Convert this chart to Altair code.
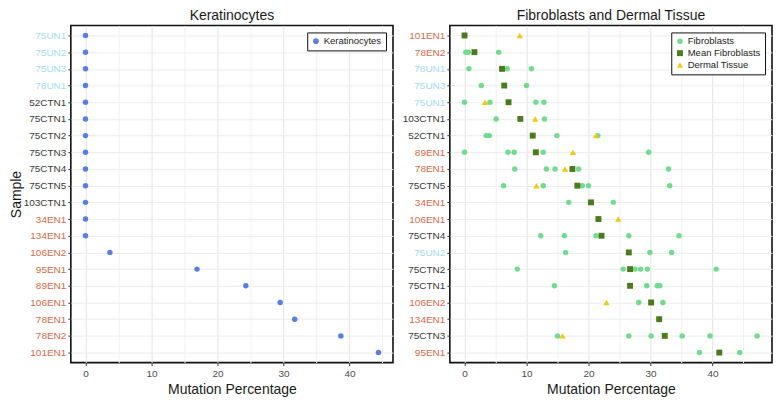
import altair as alt
import pandas as pd

# ---------------- data ----------------
kera_samples = ["75UN1", "75UN2", "75UN3", "78UN1", "52CTN1", "75CTN1", "75CTN2",
                "75CTN3", "75CTN4", "75CTN5", "103CTN1", "34EN1", "134EN1", "106EN2",
                "95EN1", "89EN1", "106EN1", "78EN1", "78EN2", "101EN1"]
kera_values = [0, 0, 0, 0, 0, 0, 0, 0, 0, 0, 0, 0, 0,
               3.7, 16.9, 24.3, 29.5, 31.7, 38.7, 44.4]

fib_samples = ["101EN1", "78EN2", "78UN1", "75UN3", "75UN1", "103CTN1", "52CTN1",
               "89EN1", "78EN1", "75CTN5", "34EN1", "106EN1", "75CTN4", "75UN2",
               "75CTN2", "75CTN1", "106EN2", "134EN1", "75CTN3", "95EN1"]
fib_values = [
    [0.0],
    [0.2, 0.6, 5.5],
    [0.7, 6.9, 10.8],
    [2.7, 10.0],
    [0.0, 4.1, 11.5, 12.8],
    [5.1, 12.9],
    [3.5, 4.0, 14.9, 21.5],
    [0.0, 7.0, 8.0, 12.7, 29.7],
    [8.1, 13.2, 14.6, 18.4, 32.9],
    [6.3, 12.7, 19.0, 20.0, 33.1],
    [16.8, 24.0],
    [21.6],
    [12.3, 16.1, 21.2, 26.5, 34.6],
    [16.3, 29.9, 33.4],
    [8.5, 25.6, 27.5, 28.4, 29.5, 40.6],
    [14.5, 29.4, 31.1, 31.5],
    [28.1, 32.0],
    [31.4],
    [15.0, 26.5, 30.1, 35.1, 39.6, 47.2],
    [37.9, 44.4],
]
fib_means = [0.0, 1.6, 6.05, 6.4, 7.1, 9.0, 11.0, 11.5, 17.4, 18.2,
             20.4, 21.6, 22.1, 26.5, 26.7, 26.7, 30.1, 31.4, 32.3, 41.1]
dermal_samples = ["101EN1", "75UN1", "103CTN1", "52CTN1", "89EN1", "78EN1",
                  "75CTN5", "106EN1", "106EN2", "75CTN3"]
dermal_values = [8.9, 3.3, 11.4, 21.2, 17.5, 16.2, 11.6, 24.8, 22.9, 15.8]

types = ["Fibroblasts", "Mean Fibroblasts", "Dermal Tissue"]

# ---------------- tables ----------------
kera_df = pd.DataFrame({"sample": kera_samples, "value": kera_values,
                        "cell": "Keratinocytes"})
rows = []
for s, vals in zip(fib_samples, fib_values):
    for v in vals:
        rows.append({"sample": s, "value": v, "type": types[0]})
for s, v in zip(fib_samples, fib_means):
    rows.append({"sample": s, "value": v, "type": types[1]})
for s, v in zip(dermal_samples, dermal_values):
    rows.append({"sample": s, "value": v, "type": types[2]})
fib_df = pd.DataFrame(rows)

# ---------------- styling ----------------
EN_COLOR = "#d4694a"
UN_COLOR = "#a3dcee"
CTN_COLOR = "#3a3a3a"
W, H = 323, 338

label_color = {
    "condition": [
        {"test": "indexof(datum.label, 'EN') >= 0", "value": EN_COLOR},
        {"test": "indexof(datum.label, 'UN') >= 0", "value": UN_COLOR},
    ],
    "value": CTN_COLOR,
}


def x_axis():
    return alt.Axis(
        values=list(range(0, 50, 5)),
        labelExpr="datum.value % 10 === 0 ? datum.label : ''",
        tickOpacity={"condition": {"test": "datum.value % 10 === 0", "value": 1}, "value": 0},
        gridColor={"condition": {"test": "datum.value % 10 === 0", "value": "#e4e4e4"},
                   "value": "#f1f1f1"},
        grid=True, domain=False, tickSize=3, labelPadding=3, titlePadding=4,
        labelColor="#4d4d4d", labelFontSize=10,
    )


def y_axis(with_title):
    kw = dict(grid=True, gridColor="#ececec", domain=False, tickSize=3,
              labelPadding=2, labelFontSize=10, labelColor=label_color)
    if with_title:
        kw["titlePadding"] = 0
    return alt.Axis(**kw)


legend_kw = dict(title=None, orient="top-right", offset=7, padding=4,
                 strokeColor="#111111", labelFontSize=9.5, labelColor="#222222",
                 symbolSize=32, rowPadding=1, labelOffset=3, fillColor="white")

left = alt.Chart(kera_df).mark_circle(size=30, opacity=1).encode(
    x=alt.X("value:Q", title="Mutation Percentage",
            scale=alt.Scale(domain=[-2.22, 46.6], nice=False, zero=False),
            axis=x_axis()),
    y=alt.Y("sample:N", title="Sample", sort=kera_samples,
            scale=alt.Scale(padding=0.6), axis=y_axis(True)),
    color=alt.Color("cell:N", scale=alt.Scale(domain=["Keratinocytes"], range=["#5a7de0"]),
                    legend=alt.Legend(**legend_kw)),
).properties(width=W, height=H, title="Keratinocytes")

right = alt.Chart(fib_df).mark_point(filled=True, opacity=1).encode(
    x=alt.X("value:Q", title="Mutation Percentage",
            scale=alt.Scale(domain=[-2.37, 49.6], nice=False, zero=False),
            axis=x_axis()),
    y=alt.Y("sample:N", title=None, sort=fib_samples,
            scale=alt.Scale(padding=0.6), axis=y_axis(False)),
    color=alt.Color("type:N", sort=types,
                    scale=alt.Scale(domain=types, range=["#72dc8e", "#4c7a1f", "#f2c811"]),
                    legend=alt.Legend(**legend_kw)),
    shape=alt.Shape("type:N", sort=types,
                    scale=alt.Scale(domain=types, range=["circle", "square", "triangle-up"]),
                    legend=alt.Legend(**legend_kw)),
    size=alt.Size("type:N", sort=types,
                  scale=alt.Scale(domain=types, range=[30, 40, 50]), legend=None),
).properties(width=W, height=H, title="Fibroblasts and Dermal Tissue")

chart = alt.hconcat(left, right, spacing=7).resolve_scale(
    x="independent", y="independent", color="independent",
    shape="independent", size="independent"
).resolve_legend(
    color="independent", shape="independent"
).properties(
    padding={"left": 0, "top": 0, "right": 0, "bottom": 0}
).configure(
    font="Liberation Sans"
).configure_view(
    stroke="#111111", strokeWidth=1.6
).configure_title(
    fontSize=14, fontWeight="normal", color="#1a1a1a", offset=2
).configure_axis(
    titleFontSize=14, titleFontWeight="normal", titleColor="#1a1a1a",
    tickColor="#333333"
)

chart.save("out.html", embed_options={"renderer": "svg", "actions": False})
